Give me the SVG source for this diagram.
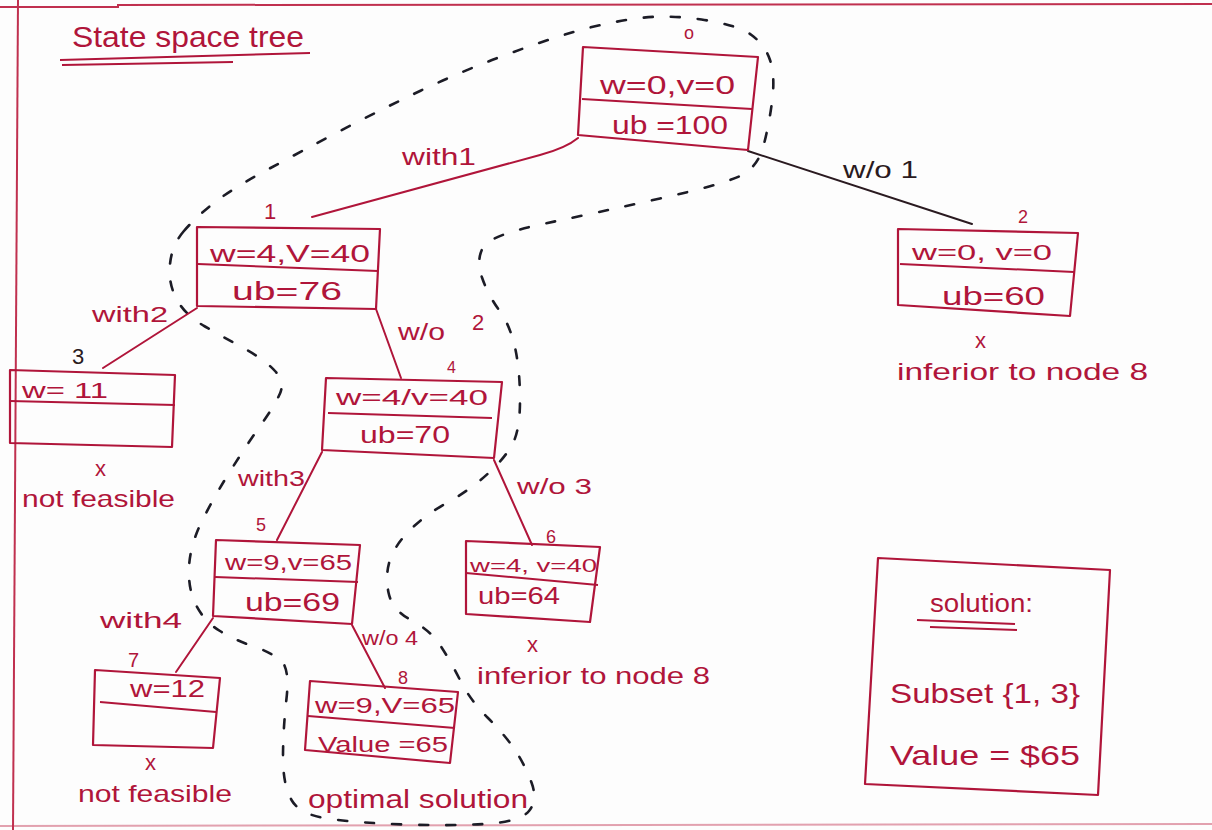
<svg xmlns="http://www.w3.org/2000/svg" width="1212" height="830" viewBox="0 0 1212 830">
  <style>
    .ink { fill: #b0153a; font-family: "Liberation Sans", "DejaVu Sans", sans-serif; }
    .dark { fill: #2a1a20; font-family: "Liberation Sans", "DejaVu Sans", sans-serif; }
    .box { fill: none; stroke: #b0153a; stroke-width: 2.2; stroke-linejoin: round; }
    .div { stroke: #b0153a; stroke-width: 2; fill: none; }
    .edge { stroke: #b0153a; stroke-width: 2; fill: none; stroke-linecap: round; }
    .edge-dark { stroke: #2a1a20; stroke-width: 2; fill: none; stroke-linecap: round; }
    .contour { fill: none; stroke: #1c1c26; stroke-width: 2.6; stroke-dasharray: 9 18; stroke-linecap: round; }
    .page { stroke: #c0304f; stroke-width: 2; fill: none; }
  </style>

  <rect width="1212" height="830" fill="#fdfdfd"/>

  <!-- notebook page rules -->
  <g id="page">
    <path class="page" d="M0,7 L118,7 L118,5 L1212,4"/>
    <path class="page" d="M18,0 L13,830"/>
    <path class="page" d="M0,826 L1212,824" opacity="0.45"/>
  </g>

  <!-- heading -->
  <g id="title">
    <text class="ink" x="72" y="47" font-size="30" textLength="232" lengthAdjust="spacingAndGlyphs">State space tree</text>
    <path class="div" d="M60,60 L310,53"/>
    <path class="div" d="M62,65 L233,62"/>
  </g>

  <!-- dashed contour around the explored path -->
  <g id="contour">
    <path class="contour" d="M183.5,231.5 Q195,218 212.5,204 Q230,190 265,171 Q300,152 340,131 Q380,110 420,91 Q460,72 500,57 Q540,42 570,33 Q600,24 632.5,19 Q665,14 701.5,19.5 Q738,25 751.5,35 Q765,45 770,60 Q775,75 772.5,97.5 Q770,120 764,144 Q758,168 739,176.5 Q720,185 660,198.5 Q600,212 545,223.5 Q490,235 483,247.5 Q476,260 482,277.5 Q488,295 499,310 Q510,325 515,347.5 Q520,370 520,400 Q520,430 512.5,444 Q505,458 487.5,474 Q470,490 447.5,502.5 Q425,515 410,530 Q395,545 390,560 Q385,575 388.5,592.5 Q392,610 411,620 Q430,630 440,645 Q450,660 460,680 Q470,700 487.5,717.5 Q505,735 515,750 Q525,765 531.5,782.5 Q538,800 529,811 Q520,822 485,824 Q450,826 405,824.5 Q360,823 330,819 Q300,815 291.5,800 Q283,785 283,757.5 Q283,730 286.5,698.5 Q290,667 280,659.5 Q270,652 252.5,646 Q235,640 220,631 Q205,622 196.5,606 Q188,590 189,567.5 Q190,545 202.5,520 Q215,495 232.5,467.5 Q250,440 262.5,422.5 Q275,405 280,393.5 Q285,382 275,371 Q265,360 245,349 Q225,338 205,326.5 Q185,315 176.5,299 Q168,283 170,264 Q172,245 183.5,231.5 Z"/>
  </g>

  <!-- connectors -->
  <g id="connectors">
    <path class="edge" d="M578,138 Q566,148 540,155 L312,217"/>
    <path class="edge-dark" d="M748,151 L972,224"/>
    <path class="edge" d="M197,308 L103,368"/>
    <path class="edge" d="M376,309 L401,378"/>
    <path class="edge" d="M322,452 L277,540"/>
    <path class="edge" d="M494,460 L532,545"/>
    <path class="edge" d="M213,618 L176,672"/>
    <path class="edge" d="M352,625 L385,688"/>
    <text class="ink" x="402" y="165" font-size="24" textLength="74" lengthAdjust="spacingAndGlyphs">with1</text>
    <text class="dark" x="843" y="178" font-size="24" textLength="75" lengthAdjust="spacingAndGlyphs">w/o 1</text>
    <text class="ink" x="92" y="322" font-size="22" textLength="76" lengthAdjust="spacingAndGlyphs">with2</text>
    <text class="ink" x="398" y="340" font-size="24" textLength="47" lengthAdjust="spacingAndGlyphs">w/o</text>
    <text class="ink" x="472" y="330" font-size="22">2</text>
    <text class="ink" x="238" y="486" font-size="22" textLength="67" lengthAdjust="spacingAndGlyphs">with3</text>
    <text class="ink" x="517" y="494" font-size="22" textLength="75" lengthAdjust="spacingAndGlyphs">w/o 3</text>
    <text class="ink" x="100" y="628" font-size="22" textLength="82" lengthAdjust="spacingAndGlyphs">with4</text>
    <text class="ink" x="362" y="645" font-size="20" textLength="56" lengthAdjust="spacingAndGlyphs">w/o 4</text>
  </g>

  <!-- node 0 -->
  <g id="node0">
    <text class="ink" x="684" y="39" font-size="18">o</text>
    <path class="box" d="M583,47 L758,57 L748,150 L578,135 Z"/>
    <path class="div" d="M582,99 L752,109"/>
    <text class="ink" x="600" y="94" font-size="26" textLength="135" lengthAdjust="spacingAndGlyphs">w=0,v=0</text>
    <text class="ink" x="612" y="134" font-size="26" textLength="116" lengthAdjust="spacingAndGlyphs">ub =100</text>
  </g>

  <!-- node 1 -->
  <g id="node1">
    <text class="ink" x="264" y="219" font-size="22">1</text>
    <path class="box" d="M197,227 L380,229 L376,309 L197,306 Z"/>
    <path class="div" d="M198,264 L378,271"/>
    <text class="ink" x="210" y="262" font-size="24" textLength="160" lengthAdjust="spacingAndGlyphs">w=4,V=40</text>
    <text class="ink" x="232" y="300" font-size="26" textLength="110" lengthAdjust="spacingAndGlyphs">ub=76</text>
  </g>

  <!-- node 2 -->
  <g id="node2">
    <text class="ink" x="1018" y="223" font-size="18">2</text>
    <path class="box" d="M898,229 L1078,233 L1070,316 L898,305 Z"/>
    <path class="div" d="M900,264 L1074,272"/>
    <text class="ink" x="912" y="260" font-size="22" textLength="140" lengthAdjust="spacingAndGlyphs">w=0, v=0</text>
    <text class="ink" x="942" y="305" font-size="26" textLength="103" lengthAdjust="spacingAndGlyphs">ub=60</text>
    <text class="ink" x="975" y="348" font-size="22">x</text>
    <text class="ink" x="897" y="380" font-size="24" textLength="251" lengthAdjust="spacingAndGlyphs">inferior to node 8</text>
  </g>

  <!-- node 3 -->
  <g id="node3">
    <text class="dark" x="72" y="364" font-size="22">3</text>
    <path class="box" d="M10,370 L175,375 L172,447 L10,443 Z"/>
    <path class="div" d="M10,401 L175,405"/>
    <text class="ink" x="22" y="398" font-size="22" textLength="86" lengthAdjust="spacingAndGlyphs">w= 11</text>
    <text class="ink" x="95" y="476" font-size="22">x</text>
    <text class="ink" x="22" y="507" font-size="24" textLength="153" lengthAdjust="spacingAndGlyphs">not feasible</text>
  </g>

  <!-- node 4 -->
  <g id="node4">
    <text class="ink" x="447" y="373" font-size="16">4</text>
    <path class="box" d="M326,378 L502,382 L494,458 L322,450 Z"/>
    <path class="div" d="M328,413 L492,418"/>
    <text class="ink" x="336" y="405" font-size="22" textLength="152" lengthAdjust="spacingAndGlyphs">w=4/v=40</text>
    <text class="ink" x="360" y="443" font-size="24" textLength="90" lengthAdjust="spacingAndGlyphs">ub=70</text>
  </g>

  <!-- node 5 -->
  <g id="node5">
    <text class="ink" x="256" y="531" font-size="18">5</text>
    <path class="box" d="M216,540 L360,545 L352,624 L213,616 Z"/>
    <path class="div" d="M215,577 L358,582"/>
    <text class="ink" x="225" y="570" font-size="22" textLength="127" lengthAdjust="spacingAndGlyphs">w=9,v=65</text>
    <text class="ink" x="245" y="611" font-size="26" textLength="95" lengthAdjust="spacingAndGlyphs">ub=69</text>
  </g>

  <!-- node 6 -->
  <g id="node6">
    <text class="ink" x="546" y="543" font-size="18">6</text>
    <path class="box" d="M466,541 L600,547 L590,622 L466,614 Z"/>
    <path class="div" d="M466,573 L598,585"/>
    <text class="ink" x="470" y="572" font-size="18" textLength="127" lengthAdjust="spacingAndGlyphs">w=4, v=40</text>
    <text class="ink" x="478" y="604" font-size="24" textLength="82" lengthAdjust="spacingAndGlyphs">ub=64</text>
    <text class="ink" x="527" y="652" font-size="22">x</text>
    <text class="ink" x="477" y="684" font-size="24" textLength="233" lengthAdjust="spacingAndGlyphs">inferior to node 8</text>
  </g>

  <!-- node 7 -->
  <g id="node7">
    <text class="ink" x="128" y="667" font-size="20">7</text>
    <path class="box" d="M95,670 L220,678 L213,748 L93,745 Z"/>
    <path class="div" d="M100,702 L216,712"/>
    <text class="ink" x="130" y="697" font-size="24" textLength="75" lengthAdjust="spacingAndGlyphs">w=12</text>
    <text class="ink" x="145" y="770" font-size="22">x</text>
    <text class="ink" x="78" y="802" font-size="24" textLength="154" lengthAdjust="spacingAndGlyphs">not feasible</text>
  </g>

  <!-- node 8 -->
  <g id="node8">
    <text class="ink" x="398" y="684" font-size="18">8</text>
    <path class="box" d="M310,681 L458,692 L450,763 L305,750 Z"/>
    <path class="div" d="M308,716 L455,728"/>
    <text class="ink" x="315" y="713" font-size="22" textLength="140" lengthAdjust="spacingAndGlyphs">w=9,V=65</text>
    <text class="ink" x="318" y="752" font-size="22" textLength="130" lengthAdjust="spacingAndGlyphs">Value =65</text>
    <text class="ink" x="308" y="808" font-size="26" textLength="220" lengthAdjust="spacingAndGlyphs">optimal solution</text>
  </g>

  <!-- solution summary -->
  <g id="solution">
    <path class="box" d="M878,558 L1110,570 L1098,795 L865,784 Z"/>
    <text class="ink" x="930" y="612" font-size="26" textLength="103" lengthAdjust="spacingAndGlyphs">solution:</text>
    <path class="div" d="M917,620 L1015,624"/>
    <path class="div" d="M930,627 L1017,630"/>
    <text class="ink" x="890" y="703" font-size="28" textLength="190" lengthAdjust="spacingAndGlyphs">Subset {1, 3}</text>
    <text class="ink" x="890" y="765" font-size="28" textLength="190" lengthAdjust="spacingAndGlyphs">Value = $65</text>
  </g>
</svg>
